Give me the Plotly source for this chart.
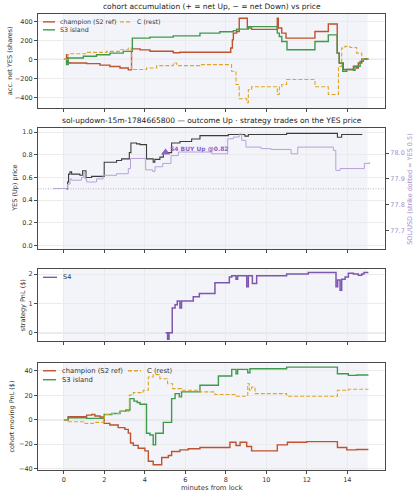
import plotly.graph_objects as go

W, H = 419, 500
FONT = "DejaVu Sans"

# ---------------- data ----------------
# panel 1: cohort accumulation (net YES shares)
acc_champ_x = [0, 0.13, 0.18, 0.30, 1.12, 1.78, 2.27, 2.77, 3.18, 3.34, 3.76, 4.25, 5.40, 5.73, 8.24, 8.32, 8.37, 8.53, 8.66,
               9.06, 9.27, 10.54, 10.59, 10.76, 10.97, 12.40, 13.06, 13.50, 13.60, 13.80, 14.30, 14.46, 14.54, 14.71, 15.04]
acc_champ_y = [0, 50, -35, -38, -45, -60, -75, -90, -110, 110, 100, 85, 70, 75, 119, 205, 275, 292, 431,
               330, 315, 431, 330, 275, 223, 292, 372, 66, -38, -107, -72, -90, -38, 4, 4]
acc_s3_x = [0, 0.13, 0.21, 0.96, 1.61, 2.27, 2.93, 3.38, 4.25, 5.40, 6.72, 7.70, 8.37, 8.53, 9.11, 10.54, 10.64, 10.76,
            11.02, 12.40, 13.06, 13.50, 13.60, 13.77, 13.97, 14.30, 14.38, 14.63, 14.79, 15.04]
acc_s3_y = [0, -55, 14, 32, 49, 66, 84, 223, 233, 247, 275, 290, 302, 317, 344, 275, 240, 188,
            101, 188, 257, 66, -38, -125, -107, -114, -73, -21, 4, 4]
acc_c_x = [0, 0.18, 0.30, 1.12, 2.11, 2.77, 3.18, 3.34, 4.08, 4.58, 5.40, 5.57, 6.72, 8.28, 8.50, 8.66, 9.03, 9.11, 9.27,
           10.54, 10.64, 10.76, 11.00, 12.40, 13.06, 13.56, 13.72, 13.88, 14.13, 14.46, 14.71, 15.04]
acc_c_y = [0, 49, 59, 73, 84, 101, 118, -107, -90, -66, -38, -66, -55, -125, -264, -414, -455, -316, -288,
           -368, -288, -264, -212, -288, -368, -73, 118, 136, 125, 66, 4, 4]

# panel 2: YES price and SOL/USD
yes_x = [0.13, 0.18, 0.23, 0.30, 0.38, 0.79, 0.92, 1.09, 1.37, 1.99, 2.60, 2.85, 3.23, 3.31, 3.59, 3.76, 4.08, 4.41,
         4.49, 4.74, 4.91, 5.32, 5.73, 6.31, 6.72, 8.12, 8.94, 9.11, 11.00, 13.51, 13.72, 14.71]
yes_y = [0.50, 0.56, 0.63, 0.65, 0.63, 0.62, 0.66, 0.60, 0.61, 0.735, 0.75, 0.765, 0.82, 0.905, 0.897, 0.89, 0.765, 0.735,
         0.76, 0.78, 0.82, 0.905, 0.918, 0.94, 0.97, 0.98, 0.965, 0.98, 0.99, 0.955, 0.98, 0.985]
sol_x = [-0.53, 0.13, 0.18, 0.30, 0.38, 0.87, 0.96, 1.04, 1.12, 1.61, 1.94, 2.60, 3.18, 3.29, 4.04, 4.38, 4.50, 4.88,
         5.29, 5.65, 7.30, 8.09, 8.37, 8.66, 8.78, 8.99, 9.74, 10.23, 11.22, 11.55, 13.31, 13.43, 13.64, 14.84, 15.10]
sol_y = [77.863, 77.863, 77.88, 77.90, 77.895, 77.905, 77.925, 77.90, 77.888, 77.90, 77.914, 77.92, 77.94, 77.979,
         77.935, 77.929, 77.947, 77.96, 77.99, 78.004, 77.997, 78.055, 78.062, 78.074, 78.049, 78.023, 78.017, 78.014,
         77.997, 78.023, 78.01, 77.933, 77.94, 77.96, 77.965]
strike_yes = 0.5
trade_x = [5.02]
trade_y = [0.82]
trade_label = "S4 BUY Up @0.82"

# panel 3: strategy PnL
s4_x = [5.02, 5.12, 5.19, 5.35, 5.49, 5.60, 5.73, 5.81, 6.39, 6.69, 7.46, 8.17, 8.29, 8.50, 8.58, 9.03, 9.11, 9.31,
        9.52, 11.00, 12.07, 13.44, 13.52, 13.64, 13.72, 13.89, 14.05, 14.30, 14.54, 14.71, 14.82, 15.04]
s4_y = [0, -0.22, 0, 0.84, 0.95, 1.08, 0.84, 1.08, 1.23, 1.34, 1.70, 1.90, 1.94, 1.82, 1.94, 1.57, 1.94, 1.68,
        1.94, 2.00, 2.05, 1.57, 1.80, 1.45, 1.82, 1.90, 2.03, 2.00, 1.96, 2.00, 2.05, 2.05]

# panel 4: cohort moving PnL
pnl_champ_x = [0, 0.21, 1.12, 1.37, 1.53, 1.78, 1.99, 2.27, 2.68, 3.01, 3.18, 3.29, 3.43, 3.67, 4.00, 4.17, 4.41, 4.83,
               5.16, 5.32, 5.73, 6.14, 6.72, 8.20, 8.50, 8.70, 9.03, 9.27, 10.54, 11.04, 11.99, 13.51, 13.97, 14.46, 15.04]
pnl_champ_y = [0, 2.4, 3.8, 4.3, 3.0, 2.2, -3.0, -4.3, -6.5, -7.9, -11, -19, -21, -23.3, -25.5, -34, -36.9, -30.9,
               -29.3, -26, -24.7, -23.8, -22.8, -18.4, -21.1, -18.4, -21.9, -25.5, -20.6, -18.4, -17.9, -22.8, -24.7, -24.4, -24.4]
pnl_s3_x = [0, 0.21, 1.12, 1.99, 2.36, 2.77, 3.06, 3.26, 3.46, 3.62, 3.76, 4.08, 4.25, 4.41, 4.53, 4.91, 5.32, 5.49,
            5.70, 5.81, 6.72, 7.63, 8.29, 8.50, 8.58, 9.08, 9.19, 11.00, 13.51, 14.05, 14.46, 15.04]
pnl_s3_y = [0, 1.6, 1.1, 4.3, 5.1, 7.0, 7.9, 17.3, 15.2, 14.1, 12.7, -11.1, -12.5, -20.6, -11.1, -2.2, 17.3, 21.4,
            18.7, 22.8, 28.2, 35.8, 41.2, 37.7, 41.2, 38.5, 41.7, 43.1, 37.7, 36.3, 36.6, 36.6]
pnl_c_x = [0, 0.21, 1.04, 1.45, 1.99, 2.36, 2.77, 3.23, 3.43, 3.92, 4.17, 4.41, 4.74, 5.12, 5.37, 5.81, 6.72, 7.46,
           8.45, 9.08, 9.16, 9.27, 9.44, 11.00, 13.51, 14.05, 15.04]
pnl_c_y = [0, -1.6, -3.0, -2.2, 4.3, 5.1, 7.0, 20.1, 22.2, 24.1, 35.0, 36.9, 33.6, 29.5, 25.5, 24.1, 22.8, 20.6,
           19.2, 29.5, 24.1, 26.8, 21.4, 19.2, 24.1, 24.9, 24.9]

x_ticks = [0, 2, 4, 6, 8, 10, 12, 14]
window = [0, 15]

# ---------------- style ----------------
C_CHAMP = "#c0522d"
C_S3 = "#3f9a4c"
C_C = "#e0a526"
C_YES = "#3c3c3c"
C_SOL = "#b5a2d8"
C_S4 = "#7d56b0"
C_SOLTXT = "#a58bcf"
DASH = "4px,2px"

XR = [-1.28, 15.86]
XD = [38 / W, 385 / W]


def py(y):
    return 1 - y / H


def px(x):
    return x / W


P1 = [py(109), py(14)]
P2 = [py(251), py(129)]
P3 = [py(343), py(271)]
P4 = [py(473), py(365)]

fig = go.Figure()


def step(x, y, color, xa, ya, dash="solid", width=1.4):
    fig.add_trace(go.Scatter(x=x, y=y, mode="lines", line=dict(color=color, width=width, dash=dash, shape="hv"),
                             xaxis=xa, yaxis=ya, showlegend=False, hoverinfo="skip"))


step(acc_champ_x, acc_champ_y, C_CHAMP, "x", "y")
step(acc_s3_x, acc_s3_y, C_S3, "x", "y")
step(acc_c_x, acc_c_y, C_C, "x", "y", dash=DASH, width=1.1)

step(sol_x, sol_y, C_SOL, "x2", "y5", width=1.0)
step(yes_x, yes_y, C_YES, "x2", "y2", width=1.1)
fig.add_trace(go.Scatter(x=trade_x, y=trade_y, mode="markers",
                         marker=dict(symbol="triangle-up", size=8, color="#8a63c0"),
                         xaxis="x2", yaxis="y2", showlegend=False, hoverinfo="skip"))

step(s4_x, s4_y, C_S4, "x3", "y3", width=1.5)

step(pnl_champ_x, pnl_champ_y, C_CHAMP, "x4", "y4")
step(pnl_s3_x, pnl_s3_y, C_S3, "x4", "y4")
step(pnl_c_x, pnl_c_y, C_C, "x4", "y4", dash=DASH, width=1.1)

axis_common = dict(showline=True, linecolor="#4a4a4a", linewidth=1, mirror=True, ticks="outside", ticklen=3,
                   tickwidth=1, tickcolor="#4a4a4a", showgrid=True, gridcolor="#ebebeb", gridwidth=0.6,
                   zeroline=False, tickfont=dict(family=FONT, size=6.5, color="#333333"))


def xaxis(anchor, labels):
    d = dict(axis_common, domain=XD, anchor=anchor, range=XR, tickvals=x_ticks, showticklabels=labels)
    return d


def ticks_txt(vals, fmt):
    return [fmt.format(v).replace("-", "\u2212") for v in vals]


shapes = []
for xa, ya in [("x", "y"), ("x2", "y2"), ("x3", "y3"), ("x4", "y4")]:
    shapes.append(dict(type="rect", xref=xa, yref=ya + " domain", x0=window[0], x1=window[1], y0=0, y1=1,
                       fillcolor="#f3f4fa", line=dict(width=0), layer="below"))
for xa, ya in [("x", "y"), ("x3", "y3"), ("x4", "y4")]:
    shapes.append(dict(type="line", xref=xa + " domain", yref=ya, x0=0, x1=1, y0=0, y1=0,
                       line=dict(color="#dadada", width=1.4), layer="below"))
shapes.append(dict(type="line", xref="x2 domain", yref="y2", x0=0, x1=1, y0=strike_yes, y1=strike_yes,
                   line=dict(color="#b8b8b8", width=1, dash="1px,1.5px"), layer="below"))

annotations = []


def txt(x, y, s, size=6.5, color="#333333", xanchor="center", angle=0, bold=False):
    annotations.append(dict(xref="paper", yref="paper", x=px(x), y=py(y), text=("<b>%s</b>" % s) if bold else s,
                            showarrow=False, xanchor=xanchor, yanchor="middle", textangle=angle,
                            font=dict(family=FONT, size=size, color=color)))


# titles
txt(211.5, 7, "cohort accumulation (+ = net Up, \u2212 = net Down) vs price", size=7.5, color="#222222")
txt(211.5, 121, "sol-updown-15m-1784665800 \u2014 outcome Up \u00b7 strategy trades on the YES price", size=7.5,
    color="#222222")
txt(211.5, 491, "minutes from lock", size=6.8)
# axis titles
txt(10, 61.5, "acc. net YES (shares)", angle=-90)
txt(15, 190, "YES (Up) price", angle=-90)
txt(410, 190, "SOL/USD (strike dotted = YES 0.5)", angle=-90, color=C_SOLTXT)
txt(23, 307, "strategy PnL ($)", angle=-90)
txt(12, 419, "cohort moving PnL ($)", angle=-90)

# trade label
annotations.append(dict(xref="x2", yref="y2", x=5.14, y=0.853, text="<b>%s</b>" % trade_label, showarrow=False,
                        xanchor="left", yanchor="middle", font=dict(family=FONT, size=6, color="#8a63c0")))


def legend_entry(x0, x1, y, color, dash, label, tx, size):
    shapes.append(dict(type="line", xref="paper", yref="paper", x0=px(x0), x1=px(x1), y0=py(y), y1=py(y),
                       line=dict(color=color, width=1.4, dash=dash), layer="above"))
    txt(tx, y, label, size=size, xanchor="left")


legend_entry(43, 55, 22, C_CHAMP, "solid", "champion (S2 ref)", 58, 6.3)
legend_entry(120, 132, 22, C_C, DASH, "C (rest)", 135, 6.3)
legend_entry(43, 55, 30, C_S3, "solid", "S3 island", 58, 6.3)

legend_entry(43, 57, 279, C_S4, "solid", "S4", 61, 6.5)

legend_entry(43, 56, 373, C_CHAMP, "solid", "champion (S2 ref)", 60, 6.8)
legend_entry(128, 141, 373, C_C, DASH, "C (rest)", 145, 6.8)
legend_entry(43, 56, 382, C_S3, "solid", "S3 island", 60, 6.8)

fig.update_layout(
    width=W, height=H, margin=dict(l=0, r=0, t=0, b=0), paper_bgcolor="white", plot_bgcolor="white",
    showlegend=False, font=dict(family=FONT, size=7, color="#333333"),
    xaxis=xaxis("y", False), xaxis2=xaxis("y2", False), xaxis3=xaxis("y3", False), xaxis4=xaxis("y4", True),
    yaxis=dict(axis_common, domain=P1, anchor="x", range=[-514, 477], tickvals=[-400, -200, 0, 200, 400],
               ticktext=ticks_txt([-400, -200, 0, 200, 400], "{:d}")),
    yaxis2=dict(axis_common, domain=P2, anchor="x2", range=[-0.035, 1.035], tickvals=[0, 0.2, 0.4, 0.6, 0.8, 1.0],
                ticktext=["0.0", "0.2", "0.4", "0.6", "0.8", "1.0"]),
    yaxis5=dict(axis_common, overlaying="y2", anchor="x2", side="right", range=[77.627, 78.096],
                tickvals=[77.7, 77.8, 77.9, 78.0], ticktext=["77.7", "77.8", "77.9", "78.0"], showgrid=False,
                mirror=False, tickfont=dict(family=FONT, size=6.5, color=C_SOLTXT)),
    yaxis3=dict(axis_common, domain=P3, anchor="x3", range=[-0.28, 2.16], tickvals=[0, 1, 2]),
    yaxis4=dict(axis_common, domain=P4, anchor="x4", range=[-41.3, 46.6], tickvals=[-40, -20, 0, 20, 40],
                ticktext=ticks_txt([-40, -20, 0, 20, 40], "{:d}")),
    shapes=shapes, annotations=annotations,
)

fig.write_html("out.html", config={"displayModeBar": False})
